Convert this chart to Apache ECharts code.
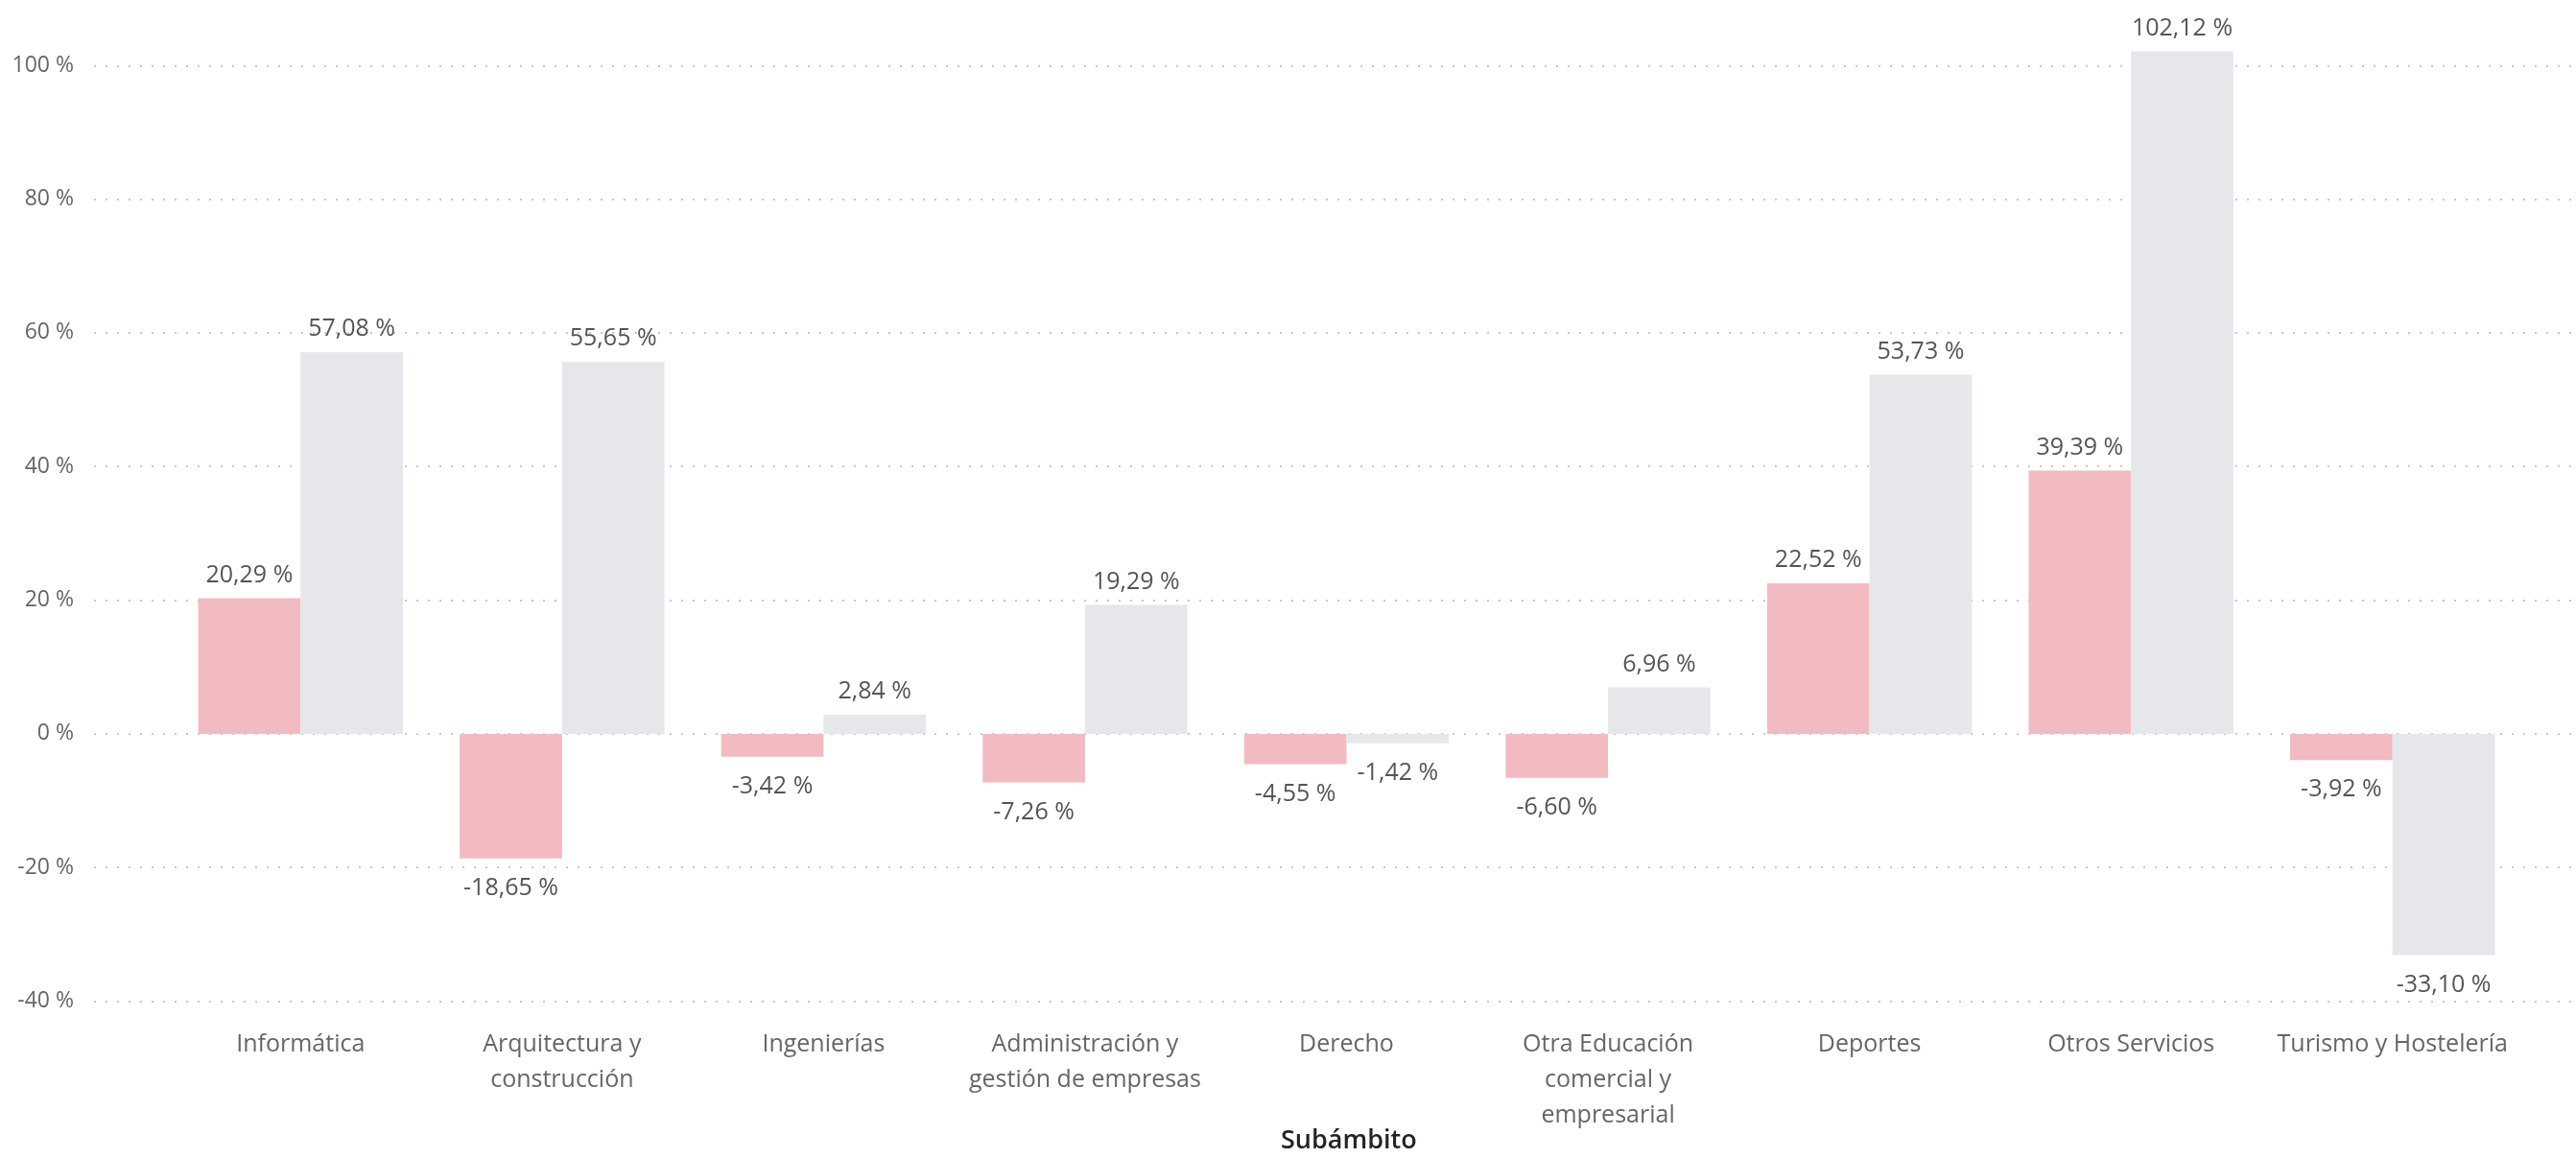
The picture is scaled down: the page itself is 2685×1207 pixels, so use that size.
<!DOCTYPE html>
<html>
<head>
<meta charset="utf-8">
<script src="https://cdn.jsdelivr.net/npm/echarts@6/dist/echarts.min.js"></script>
<style>
  html, body { margin: 0; padding: 0; background: #ffffff; }
  #chart { width: 2685px; height: 1207px; }
</style>
</head>
<body>
<div id="chart"></div>
<script>
// Sub-areas on the horizontal axis
const categories = [
  'Informática',
  'Arquitectura y construcción',
  'Ingenierías',
  'Administración y gestión de empresas',
  'Derecho',
  'Otra Educación comercial y empresarial',
  'Deportes',
  'Otros Servicios',
  'Turismo y Hostelería'
];

// Axis label text, wrapped as it is shown under each category
const categoryLabels = [
  'Informática',
  'Arquitectura y\nconstrucción',
  'Ingenierías',
  'Administración y\ngestión de empresas',
  'Derecho',
  'Otra Educación\ncomercial y\nempresarial',
  'Deportes',
  'Otros Servicios',
  'Turismo y Hostelería'
];

// Percentage change, first series (pink)
const seriesPink = [20.29, -18.65, -3.42, -7.26, -4.55, -6.60, 22.52, 39.39, -3.92];
// Percentage change, second series (grey)
const seriesGrey = [57.08, 55.65, 2.84, 19.29, -1.42, 6.96, 53.73, 102.12, -33.10];

// Value-axis ticks
const yTicks = [-40, -20, 0, 20, 40, 60, 80, 100];

const axisTitle = 'Subámbito';

const FONT = '"Open Sans", "Noto Sans", sans-serif';

function fmtPct(v) {
  return v.toFixed(2).replace('.', ',') + ' %';
}

// Positive values get their label above the bar, negative ones below it
function withLabels(values) {
  return values.map(v => ({
    value: v,
    label: {
      position: v >= 0 ? 'top' : 'bottom',
      distance: v >= 0 ? 9 : 16
    }
  }));
}

const yMin = yTicks[0];
const yMax = yTicks[yTicks.length - 1];
const yStep = yTicks[1] - yTicks[0];

const chart = echarts.init(document.getElementById('chart'), null, { renderer: 'canvas' });

const barLabel = {
  show: true,
  color: '#555555',
  fontFamily: FONT,
  fontSize: 25,
  lineHeight: 30,
  formatter: p => fmtPct(p.value)
};

chart.setOption({
  animation: false,
  backgroundColor: '#ffffff',
  grid: [
    // grid for the dotted gridlines and tick labels
    { left: 98, right: 5, top: 68.3, bottom: 163.5, containLabel: false },
    // grid for the bars (same vertical scale, extended a little above 100 %)
    { left: 177, right: 55, top: 33.5, bottom: 163.5, containLabel: false }
  ],
  xAxis: [
    {
      gridIndex: 0, type: 'category', data: [''],
      show: false
    },
    {
      gridIndex: 1, type: 'category', data: categories,
      axisLine: { show: false },
      axisTick: { show: false },
      splitLine: { show: false },
      axisLabel: {
        interval: 0,
        margin: 27,
        color: '#666666',
        fontFamily: FONT,
        fontSize: 25,
        lineHeight: 37,
        align: 'center',
        formatter: (val, idx) => categoryLabels[idx]
      }
    }
  ],
  yAxis: [
    {
      gridIndex: 0, type: 'value',
      min: yMin, max: yMax, interval: yStep,
      axisLine: { show: false },
      axisTick: { show: false },
      axisLabel: {
        margin: 21,
        color: '#666666',
        fontFamily: FONT,
        fontSize: 23,
        formatter: v => v + ' %'
      },
      splitLine: {
        show: true,
        lineStyle: { color: '#c8c8c8', width: 2, type: [2, 10], cap: 'butt' }
      }
    },
    {
      gridIndex: 1, type: 'value',
      min: yMin, max: 105,
      show: false,
      splitLine: { show: false }
    }
  ],
  series: [
    {
      name: 'A',
      type: 'bar',
      xAxisIndex: 1, yAxisIndex: 1,
      data: withLabels(seriesPink),
      barGap: '0%',
      barCategoryGap: '21.7%',
      itemStyle: { color: '#F2BBC1' },
      label: barLabel,
      emphasis: { disabled: true }
    },
    {
      name: 'B',
      type: 'bar',
      xAxisIndex: 1, yAxisIndex: 1,
      data: withLabels(seriesGrey),
      barGap: '0%',
      barCategoryGap: '21.7%',
      itemStyle: { color: '#E6E7EA' },
      label: barLabel,
      emphasis: { disabled: true }
    }
  ],
  graphic: [
    {
      type: 'text',
      left: 1405 - 70,
      top: 1193 - 17,
      style: {
        text: axisTitle,
        fill: '#252423',
        fontFamily: FONT,
        fontWeight: 600,
        fontSize: 27,
        width: 140,
        align: 'center'
      }
    }
  ]
});
</script>
</body>
</html>
